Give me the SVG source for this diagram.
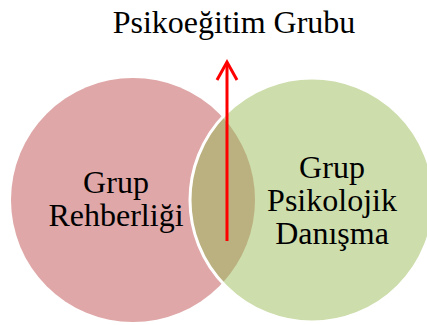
<svg xmlns="http://www.w3.org/2000/svg" width="427" height="325" viewBox="0 0 427 325">
<style>
text{font-family:"Liberation Serif","Times New Roman",serif;font-size:32px;fill:#000;text-anchor:middle}
.conn{stroke:#FF0000;stroke-width:3;fill:none}
</style>
<rect width="427" height="325" fill="#FFFFFF"/>
<g id="node-rehberlik">
<circle cx="133" cy="200" r="122" fill="#DFA7A7"/>
</g>
<g id="node-psikolojik">
<circle cx="312" cy="200" r="122" fill="#CDDDAC"/>
</g>
<g id="node-overlap">
<path d="M222.5 117.1 A122 122 0 0 1 222.5 282.9 A122 122 0 0 1 222.5 117.1 Z" fill="#BBB07F"/>
<circle cx="312" cy="200" r="122" fill="none" stroke="#FFFFFF" stroke-width="3"/>
</g>
<g id="labels">
<text x="116" y="193">Grup</text>
<text x="116" y="226">Rehberliği</text>
<text x="332" y="178">Grup</text>
<text x="332" y="211">Psikolojik</text>
<text x="332" y="244">Danışma</text>
</g>
<g id="node-title">
<text x="234" y="33">Psikoeğitim Grubu</text>
</g>
<g id="connectors">
<line class="conn" x1="227" y1="241" x2="227" y2="63"/>
<polyline class="conn" points="217,80 227,62 237,80"/>
</g>
</svg>
